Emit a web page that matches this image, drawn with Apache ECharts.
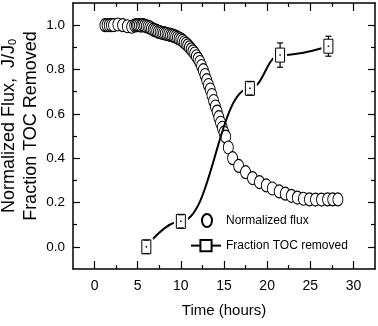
<!DOCTYPE html>
<html><head><meta charset="utf-8">
<script src="https://cdn.jsdelivr.net/npm/echarts@6/dist/echarts.min.js"></script>
<style>html,body{margin:0;padding:0;background:#fff}#c{width:378px;height:326px}</style>
</head><body><div id="c"></div>
<script>
const fluxTime = [1.2,1.45,1.7,1.95,2.2,2.7,3.25,3.8,4.3,4.65,4.85,5.0,5.2,5.4,5.6,5.8,6.0,6.2,6.4,6.6,6.8,7.0,7.2,7.4,7.6,7.8,8.0,8.2,8.4,8.6,8.8,9.0,9.2,9.4,9.6,9.8,10.0,10.2,10.4,10.6,10.8,11.0,11.2,11.4,11.6,11.8,12.0,12.2,12.4,12.6,12.8,13.0,13.2,13.4,13.6,13.8,14.0,14.2,14.4,14.6,14.8,15.0,15.2,15.5,16.0,16.7,17.5,18.3,19.1,19.9,20.6,21.4,22.1,22.8,23.5,24.2,24.9,25.6,26.3,27.0,27.6,28.2];
const fluxValue = [1.000,1.000,1.000,1.000,1.000,1.003,1.000,0.995,0.993,0.998,1.000,1.000,1.000,0.998,1.000,0.998,0.995,0.993,0.990,0.985,0.980,0.977,0.974,0.970,0.968,0.966,0.964,0.962,0.960,0.958,0.956,0.954,0.951,0.948,0.944,0.940,0.936,0.930,0.923,0.916,0.909,0.900,0.891,0.882,0.872,0.860,0.848,0.834,0.816,0.797,0.775,0.752,0.730,0.710,0.685,0.658,0.633,0.610,0.585,0.560,0.537,0.515,0.497,0.448,0.400,0.365,0.337,0.310,0.292,0.277,0.263,0.250,0.240,0.230,0.222,0.217,0.214,0.213,0.213,0.214,0.214,0.214];
const tocTime = [6.0, 10.0, 18.0, 21.5, 27.1];
const tocValue = [0.0, 0.115, 0.715, 0.865, 0.905];
const tocError = [0.03, 0.03, 0.03, 0.055, 0.045];
const xMajorTicks = [0,5,10,15,20,25,30];
const xMinorTicks = [2.5,7.5,12.5,17.5,22.5,27.5];
const yMajorTicks = [0,0.2,0.4,0.6,0.8,1.0];
const yMinorTicks = [0.1,0.3,0.5,0.7,0.9];
const seriesNames = ['Normalized flux','Fraction TOC removed'];
const xTitle = 'Time (hours)';

const SANS = "'Liberation Sans',Arial,sans-serif";
const AX = {color:'#000', width:1.5};
function xAxisDef(pos, ticks, len, showLine, labels){
  return {type:'value', position:pos, min:-2.5, max:32.5,
    axisLine:{show:showLine, onZero:false, lineStyle:AX},
    axisTick:{show:true, inside:true, length:len, customValues:ticks, lineStyle:{color:'#000',width:1.2}},
    axisLabel: labels ? {show:true, customValues:ticks, color:'#000', fontSize:14, fontFamily:SANS, margin:10} : {show:false},
    splitLine:{show:false}};
}
function yAxisDef(pos, ticks, len, showLine, labels){
  return {type:'value', position:pos, min:-0.1, max:1.1,
    axisLine:{show:showLine, onZero:false, lineStyle:AX},
    axisTick:{show:true, inside:true, length:len, customValues:ticks, lineStyle:{color:'#000',width:1.2}},
    axisLabel: labels ? {show:true, customValues:ticks, color:'#000', fontSize:13.5, fontFamily:SANS, margin:8, formatter:v=>v.toFixed(1)} : {show:false},
    splitLine:{show:false}};
}
const xb = xAxisDef('bottom', xMajorTicks, 8, true, true);
xb.name = xTitle; xb.nameLocation='middle'; xb.nameGap=34; xb.nameMoveOverlap=false;
xb.nameTextStyle = {color:'#000', fontSize:15, fontFamily:SANS};
const yl = yAxisDef('left', yMajorTicks, 7, true, true);
yl.name = 'Normalized Flux,  J/J{s|0}\nFraction TOC Removed';
yl.nameLocation='middle'; yl.nameGap=31; yl.nameMoveOverlap=false;
yl.nameTextStyle = {color:'#000', fontSize:18, lineHeight:22, fontFamily:SANS, padding:[0,0,0,20],
  rich:{s:{fontSize:11, fontFamily:SANS, color:'#000', padding:[7,0,0,0]}}};

const chart = echarts.init(document.getElementById('c'), null, {renderer:'canvas'});
chart.setOption({
  animation:false,
  backgroundColor:'#fff',
  grid:{left:73, right:3, top:3, bottom:57, containLabel:false, outerBoundsMode:'none'},
  xAxis:[xb, xAxisDef('bottom', xMinorTicks, 4, false, false),
         xAxisDef('top', xMajorTicks, 8, true, false), xAxisDef('top', xMinorTicks, 4, false, false)],
  yAxis:[yl, yAxisDef('left', yMinorTicks, 4, false, false),
         yAxisDef('right', yMajorTicks, 7, true, false), yAxisDef('right', yMinorTicks, 4, false, false)],
  legend:[
    {data:[{name:seriesNames[0], icon:'path://M0,6.5A5,6.5 0 1,1 10,6.5A5,6.5 0 1,1 0,6.5Z'}],
     left:196, top:208, itemWidth:28, itemHeight:13, selectedMode:false,
     textStyle:{color:'#000', fontSize:12, fontFamily:SANS}},
    {data:[seriesNames[1]], left:185, top:234, itemWidth:30, itemHeight:14, selectedMode:false,
     textStyle:{color:'#000', fontSize:12, fontFamily:SANS}}
  ],
  series:[
    {name:seriesNames[0], type:'scatter', symbol:'circle', symbolSize:[10,13],
     itemStyle:{color:'#fff', borderColor:'#000', borderWidth:1, opacity:1},
     data:fluxTime.map((t,i)=>[t, fluxValue[i]]), z:2},
    {name:seriesNames[1], type:'line', smooth:0.45, smoothMonotone:'x', symbol:'rect', symbolSize:[9,14],
     itemStyle:{color:'#fff', borderColor:'#000', borderWidth:1},
     lineStyle:{color:'#000', width:2},
     data:tocTime.map((t,i)=>[t, tocValue[i]]), z:3},
    {type:'custom', z:4, silent:true,
     data:tocTime.map((t,i)=>[t, tocValue[i], tocError[i]]),
     renderItem:function(params, api){
       const x=api.value(0), y=api.value(1), e=api.value(2);
       const p=api.coord([x,y]), t=api.coord([x,y+e]), b=api.coord([x,y-e]);
       const hw=4.5, hh=7;
       const kids=[
         {type:'rect', shape:{x:p[0]-hw-2.5, y:p[1]-hh-1.5, width:2*hw+5, height:2*hh+3}, style:{fill:'#fff', stroke:null}},
         {type:'rect', shape:{x:p[0]-hw, y:p[1]-hh, width:2*hw, height:2*hh}, style:{fill:'#fff', stroke:'#000', lineWidth:1}},
         {type:'rect', shape:{x:p[0]-0.75, y:p[1]-0.75, width:1.5, height:1.5}, style:{fill:'#000'}}
       ];
       if (t[1] < p[1]-hh) kids.push({type:'line', shape:{x1:p[0],y1:t[1],x2:p[0],y2:p[1]-hh}, style:{stroke:'#000', lineWidth:1.2}});
       if (b[1] > p[1]+hh) kids.push({type:'line', shape:{x1:p[0],y1:p[1]+hh,x2:p[0],y2:b[1]}, style:{stroke:'#000', lineWidth:1.2}});
       kids.push({type:'line', shape:{x1:p[0]-3,y1:t[1],x2:p[0]+3,y2:t[1]}, style:{stroke:'#000', lineWidth:1.2}});
       kids.push({type:'line', shape:{x1:p[0]-3,y1:b[1],x2:p[0]+3,y2:b[1]}, style:{stroke:'#000', lineWidth:1.2}});
       return {type:'group', children:kids};
     }}
  ]
});
</script></body></html>
